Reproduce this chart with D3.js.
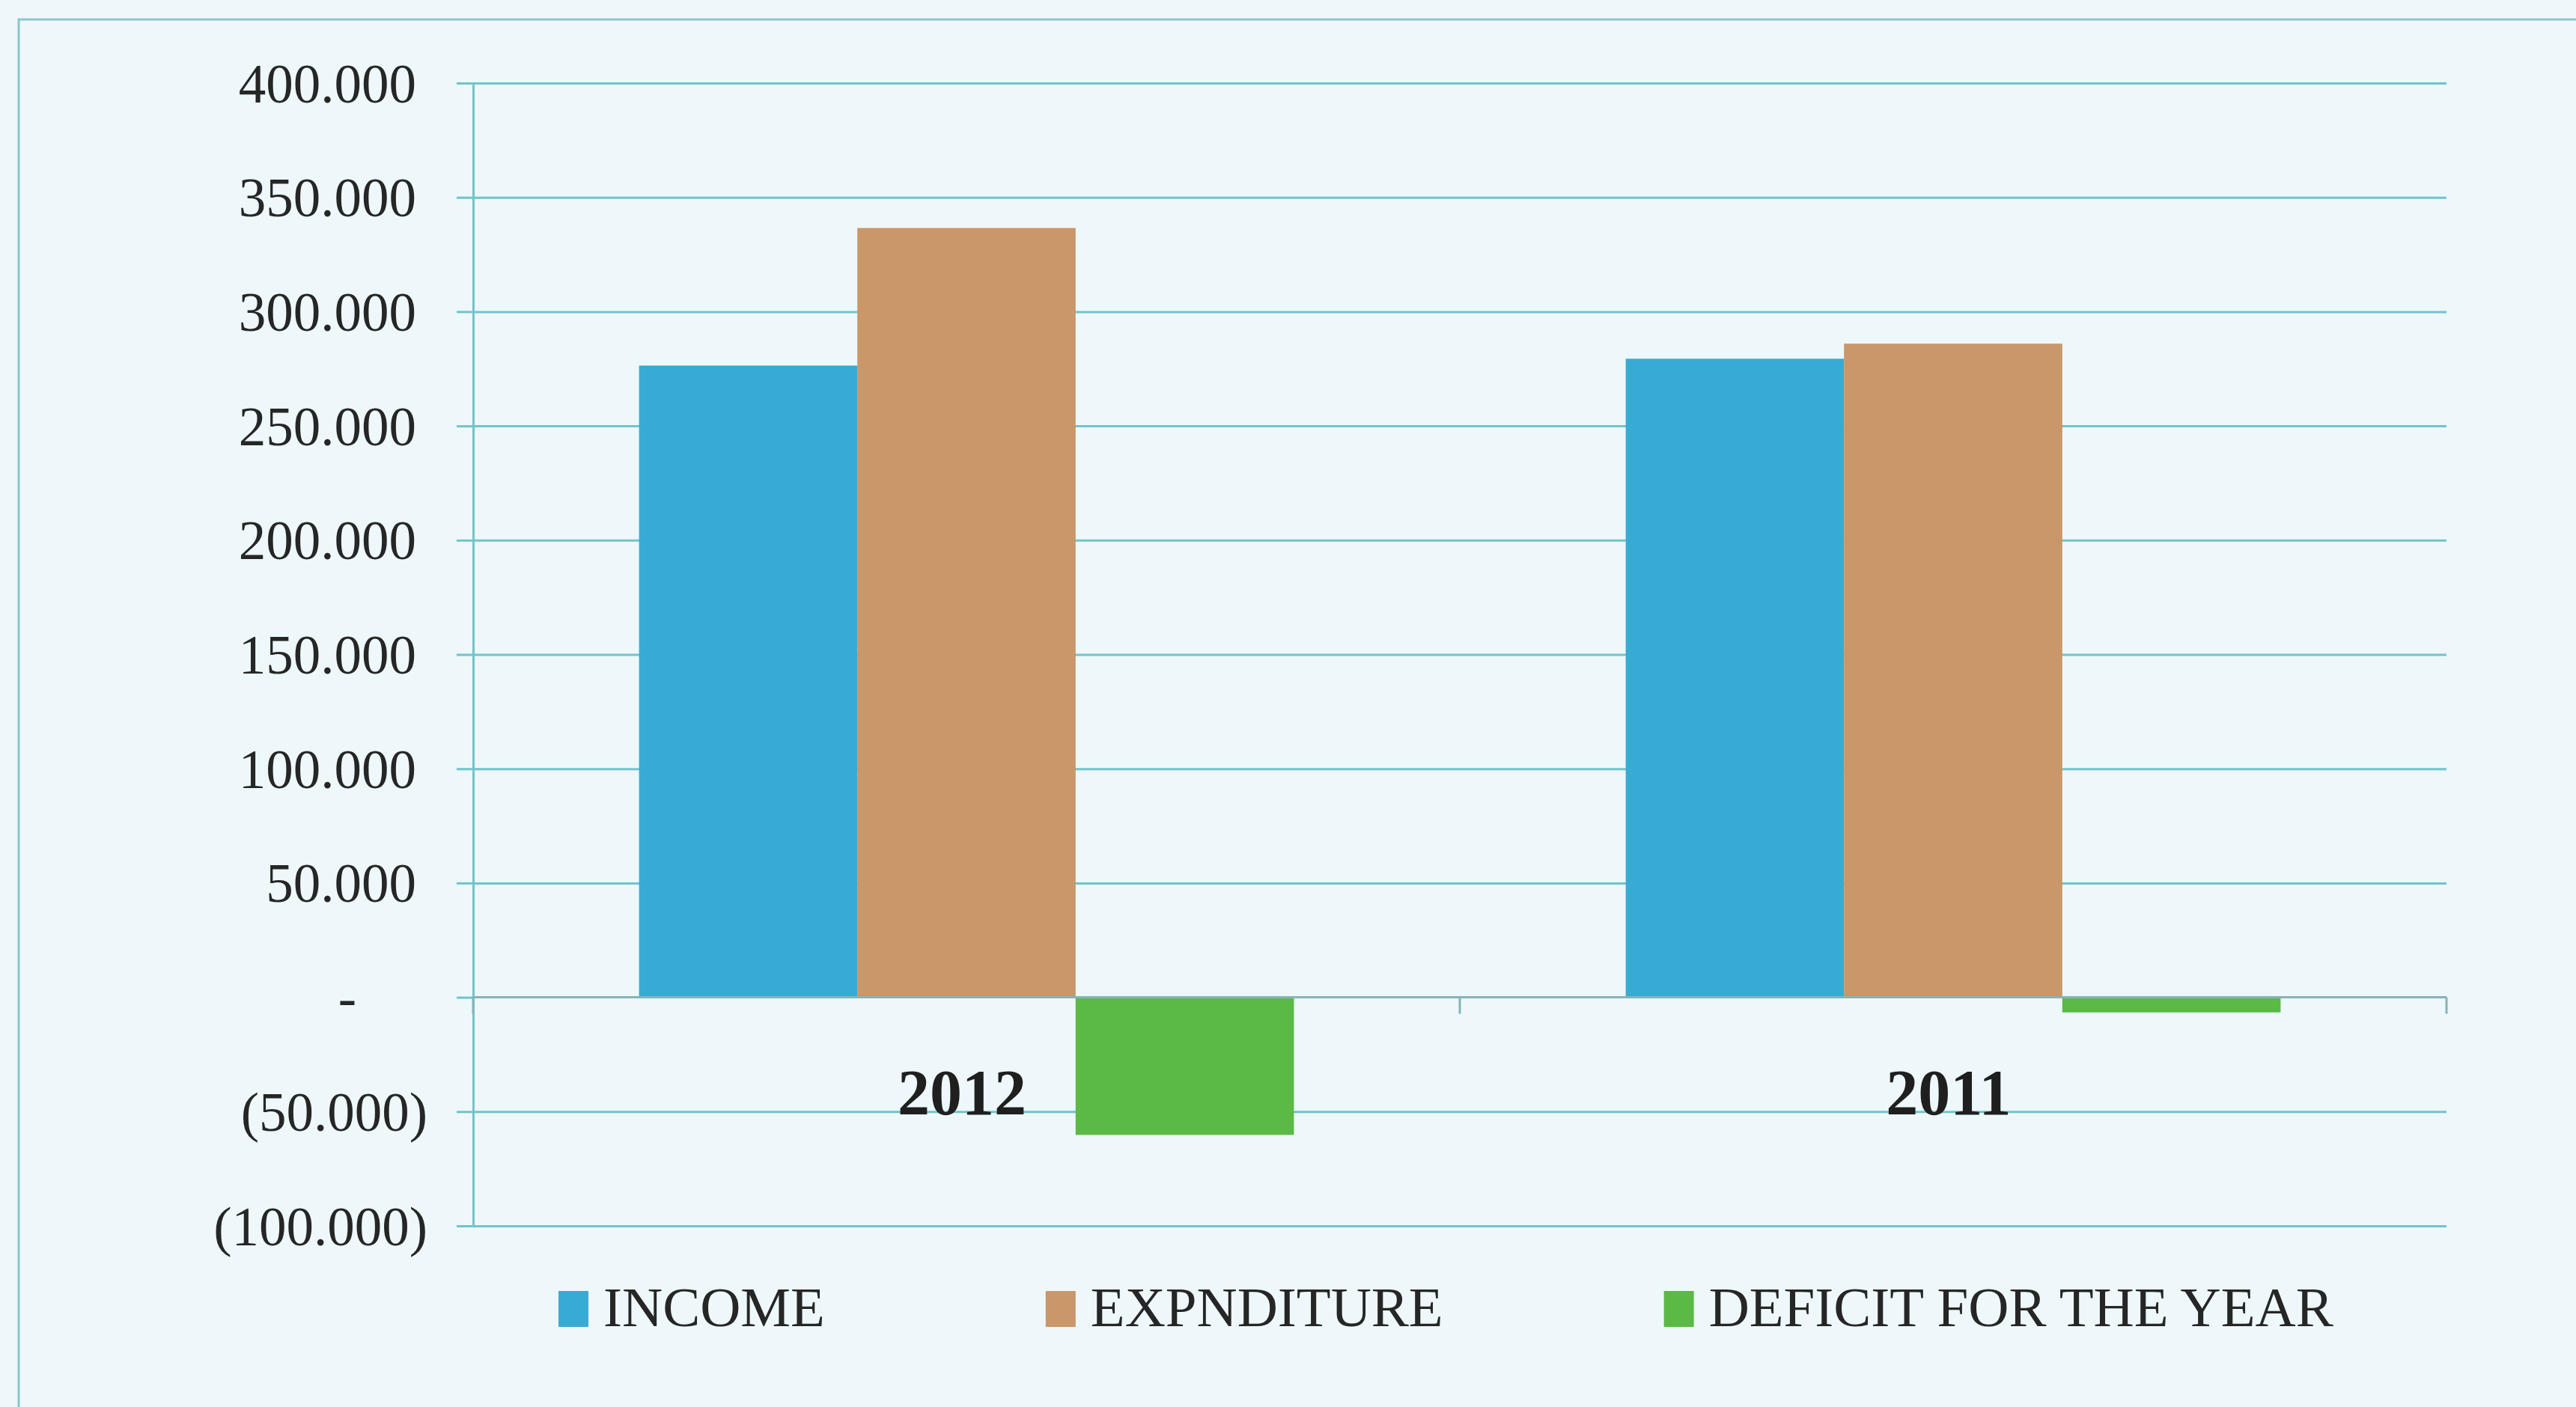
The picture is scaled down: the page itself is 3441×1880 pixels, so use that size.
<!DOCTYPE html>
<html>
<head>
<meta charset="utf-8">
<script src="https://cdn.jsdelivr.net/npm/d3@7"></script>
<style>
  body { margin: 0; background: #edf7fa; }
  svg { display: block; }
  text { font-family: "Liberation Serif", "Times New Roman", serif; fill: #262626; }
</style>
</head>
<body>
<script>
// data (values in units, tick labels use "." as thousands sep)
const categories = ["2012", "2011"];
const seriesNames = ["INCOME", "EXPNDITURE", "DEFICIT FOR THE YEAR"];
const income = [276400, 279400];
const expenditure = [336600, 286000];
const deficit = [-60200, -6600];
const yTicks = [-100000, -50000, 0, 50000, 100000, 150000, 200000, 250000, 300000, 350000, 400000];
const seriesColors = ["#38abd4", "#c9976a", "#5bb946"];

const values = [income, expenditure, deficit];

const W = 3441, H = 1880;
const plot = { left: 632, right: 3268, top: 111, bottom: 1638 };

const svg = d3.select("body").append("svg")
  .attr("width", W)
  .attr("height", H);

// page background + outer frame of the chart
svg.append("rect").attr("width", W).attr("height", H).attr("fill", "#eef8fa");
svg.append("rect")
  .attr("x", 25).attr("y", 26)
  .attr("width", W + 50).attr("height", H + 50)
  .attr("fill", "none")
  .attr("stroke", "#8cc6cc")
  .attr("stroke-width", 3);

// Scales
const x0 = d3.scaleBand().domain(categories).range([plot.left, plot.right]).padding(0);
const x1 = d3.scaleBand().domain(seriesNames).range([0, x0.bandwidth()])
  .paddingInner(0).paddingOuter(0.76);
const y = d3.scaleLinear().domain([-100000, 400000]).range([plot.bottom, plot.top]);

const locale = d3.formatLocale({ decimal: ",", thousands: ".", grouping: [3], currency: ["", ""] });
const fmt = locale.format(",.0f");

// Gridlines (y axis with long ticks)
const grid = svg.append("g")
  .attr("transform", `translate(${plot.left},0)`)
  .call(d3.axisLeft(y).tickValues(yTicks.filter(d => d !== 0))
    .tickSize(-(plot.right - plot.left)).tickFormat(""));
grid.select(".domain").remove();
grid.selectAll("line").attr("stroke", "#72c3cc").attr("stroke-width", 3);

// Y axis line + outer ticks
const yAxis = svg.append("g")
  .attr("transform", `translate(${plot.left},0)`)
  .call(d3.axisLeft(y).tickValues(yTicks).tickSize(22).tickSizeOuter(0).tickFormat(""));
yAxis.select(".domain").attr("stroke", "#72c3cc").attr("stroke-width", 3);
yAxis.selectAll("line").attr("stroke", "#72c3cc").attr("stroke-width", 3);

// y tick labels, accounting style
svg.append("g").selectAll("text")
  .data(yTicks)
  .enter().append("text")
  .attr("x", d => d > 0 ? 556 : d < 0 ? 571 : 464)
  .attr("y", d => y(d))
  .attr("dy", "0.35em")
  .attr("text-anchor", d => d === 0 ? "middle" : "end")
  .style("font-size", "73px")
  .text(d => d > 0 ? fmt(d) : d < 0 ? `(${fmt(-d)})` : "-");

// Bars
const groups = svg.append("g").selectAll("g")
  .data(categories)
  .enter().append("g")
  .attr("transform", d => `translate(${x0(d)},0)`);

groups.selectAll("rect")
  .data((c, i) => seriesNames.map((s, j) => ({ series: s, value: values[j][i], color: seriesColors[j] })))
  .enter().append("rect")
  .attr("x", d => x1(d.series))
  .attr("y", d => y(Math.max(0, d.value)))
  .attr("width", x1.bandwidth())
  .attr("height", d => Math.abs(y(d.value) - y(0)))
  .attr("fill", d => d.color);

// X axis at zero with category boundary ticks
const xAxis = svg.append("g");
xAxis.append("line")
  .attr("x1", plot.left).attr("x2", plot.right)
  .attr("y1", y(0)).attr("y2", y(0))
  .attr("stroke", "#86b3b8").attr("stroke-width", 3);
const bounds = categories.map(c => x0(c)).concat([plot.right]);
xAxis.selectAll(".xtick")
  .data(bounds)
  .enter().append("line")
  .attr("class", "xtick")
  .attr("x1", d => d).attr("x2", d => d)
  .attr("y1", y(0)).attr("y2", y(0) + 22)
  .attr("stroke", "#86b3b8").attr("stroke-width", 3);

// category labels (sit low, near the -50 line)
svg.append("g").selectAll("text")
  .data(categories)
  .enter().append("text")
  .attr("x", d => x0(d) + x0.bandwidth() / 2 - 6)
  .attr("y", y(-50000) + 4)
  .attr("text-anchor", "middle")
  .style("font-size", "86px")
  .style("font-weight", "bold")
  .style("fill", "#1f1f1f")
  .text(d => d);

// Legend
const legend = svg.append("g").attr("class", "legend");
let lx = 746;
seriesNames.forEach((name, i) => {
  legend.append("rect")
    .attr("x", lx).attr("y", 1725)
    .attr("width", 40).attr("height", 48)
    .attr("fill", seriesColors[i]);
  const t = legend.append("text")
    .attr("x", lx + 60)
    .attr("y", 1772)
    .style("font-size", "75px")
    .text(name);
  lx = lx + 60 + t.node().getComputedTextLength() + 295;
});
</script>
</body>
</html>
